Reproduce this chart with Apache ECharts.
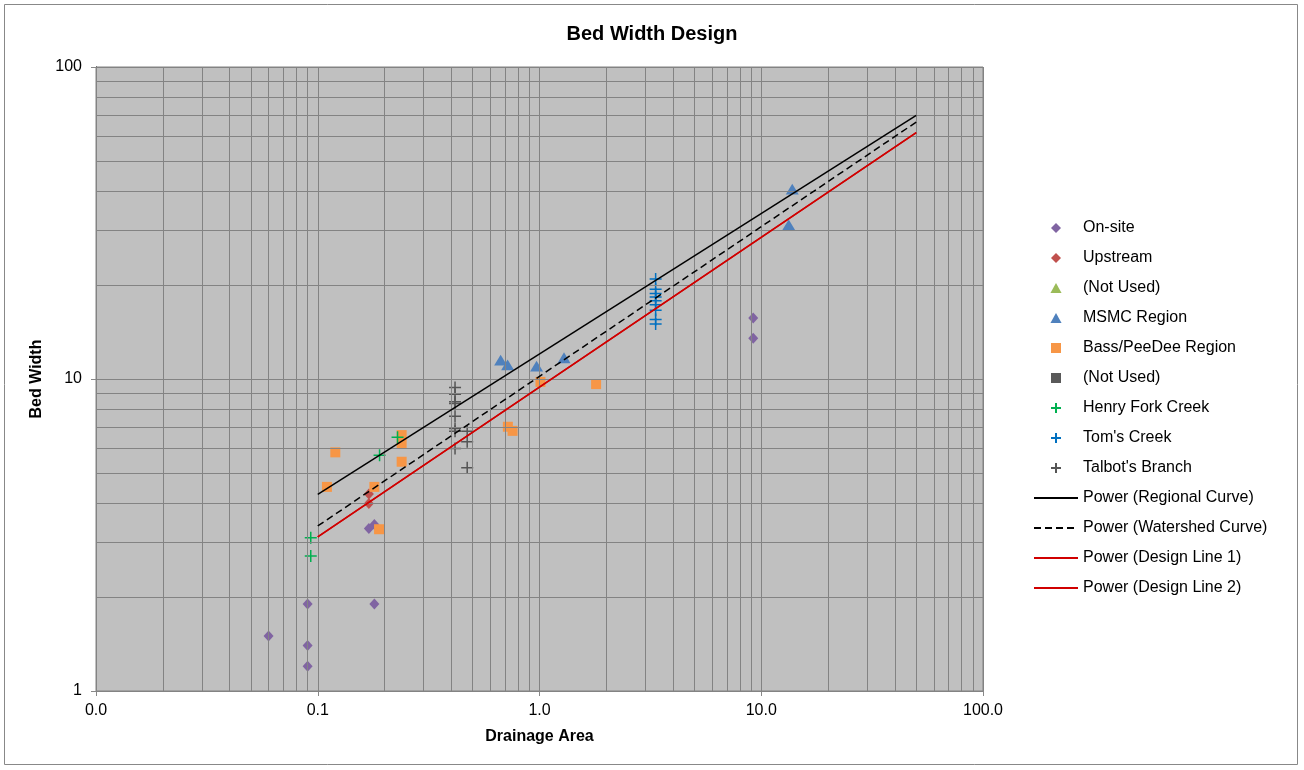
<!DOCTYPE html>
<html>
<head>
<meta charset="utf-8">
<script src="https://cdn.jsdelivr.net/npm/echarts@6/dist/echarts.min.js"></script>
<style>html,body{margin:0;padding:0;background:#fff;}#chart{width:1304px;height:770px;}</style>
</head>
<body>
<div id="chart"></div>
<script>
// ---- data ----
const onsiteX = [0.06, 0.09, 0.09, 0.09, 0.17, 0.18, 0.18, 9.2, 9.2];
const onsiteY = [1.5, 1.9, 1.4, 1.2, 3.32, 3.42, 1.9, 15.7, 13.5];
const upstreamX = [0.17, 0.17];
const upstreamY = [4.28, 3.99];
const notUsedAX = [];
const notUsedAY = [];
const msmcX = [0.668, 0.718, 0.97, 1.29, 13.3, 13.8];
const msmcY = [11.5, 11.1, 11.0, 11.7, 31.2, 40.6];
const bassX = [0.11, 0.12, 0.18, 0.189, 0.239, 0.239, 0.239, 0.72, 0.756, 1.01, 1.8];
const bassY = [4.51, 5.82, 4.51, 3.30, 6.61, 6.21, 5.43, 7.03, 6.82, 9.79, 9.63];
const notUsedBX = [];
const notUsedBY = [];
const henryX = [0.093, 0.093, 0.19, 0.229];
const henryY = [3.10, 2.71, 5.70, 6.50];
const tomsX = [3.34, 3.34, 3.34, 3.34, 3.34, 3.34, 3.34, 3.34, 3.34];
const tomsY = [20.9, 19.4, 18.8, 18.3, 17.8, 17.3, 16.6, 15.5, 15.0];
const talbotX = [0.416, 0.416, 0.416, 0.416, 0.416, 0.416, 0.416, 0.416, 0.472, 0.472, 0.472];
const talbotY = [9.39, 8.94, 8.45, 8.35, 7.60, 6.94, 6.80, 5.99, 6.80, 6.29, 5.19];
const regionalX = [0.1, 50];
const regionalY = [4.27, 70.0];
const watershedX = [0.1, 50];
const watershedY = [3.38, 66.6];
const design1X = [0.1, 50];
const design1Y = [3.12, 61.6];
const design2X = [0.1, 50];
const design2Y = [3.12, 61.6];
const xTickDecades = [-2, -1, 0, 1];   // gridlines 1..9 x 10^d, plus 100
const yTickDecades = [0, 1];
const titleText = 'Bed Width Design';
const xName = 'Drainage Area';
const yName = 'Bed Width';

function zip(xs, ys) { return xs.map((x, i) => [x, ys[i]]); }
function gridValues(decades, top) {
  const out = [];
  decades.forEach(d => { for (let k = 1; k <= 9; k++) out.push(Number((k * Math.pow(10, d)).toPrecision(3))); });
  out.push(top);
  return out;
}
const gx = gridValues(xTickDecades, 100);
const gy = gridValues(yTickDecades, 100);

const plusPath = 'path://M5,0L5,10M0,5L10,5';
const diamondPath = 'path://M5,0L10,5L5,10L0,5Z';
const trianglePath = 'path://M5,0L10,9L0,9Z';
const squarePath = 'path://M0,0L10,0L10,10L0,10Z';
const FONT = 'Liberation Sans, Arial, sans-serif';
const NARROW = 'Liberation Sans Narrow, Arial Narrow, Liberation Sans, sans-serif';

function scatter(name, xs, ys, symbol, size, color, isPlus) {
  return {
    name: name, type: 'scatter', data: zip(xs, ys), symbol: symbol, symbolSize: size, z: 4,
    symbolKeepAspect: true,
    itemStyle: isPlus ? { color: color, borderColor: color, borderWidth: 1.5, opacity: 1 } : { color: color, opacity: 1 },
    emphasis: { disabled: true }
  };
}
function trend(name, xs, ys, color, type) {
  return {
    name: name, type: 'line', data: zip(xs, ys), symbol: 'none', showSymbol: false, z: 5,
    lineStyle: { color: color, width: 1.5, type: type },
    itemStyle: { color: color },
    emphasis: { disabled: true }
  };
}

const series = [
  {
    name: '__grid', type: 'scatter', data: [], z: 1, silent: true,
    markLine: {
      silent: true, symbol: ['none', 'none'], animation: false,
      label: { show: false },
      lineStyle: { color: '#838383', width: 1, type: 'solid' },
      emphasis: { disabled: true },
      data: gx.map(v => ({ xAxis: v })).concat(gy.map(v => ({ yAxis: v })))
    }
  },
  scatter('On-site', onsiteX, onsiteY, diamondPath, [10, 11], '#8064a2'),
  scatter('Upstream', upstreamX, upstreamY, diamondPath, [10, 11], '#c0504d'),
  scatter('(Not Used)', notUsedAX, notUsedAY, trianglePath, [13, 12], '#9bbb59'),
  scatter('MSMC Region', msmcX, msmcY, trianglePath, [13, 12], '#4f81bd'),
  scatter('Bass/PeeDee Region', bassX, bassY, squarePath, 10, '#f79646'),
  scatter('(Not Used) ', notUsedBX, notUsedBY, squarePath, 10, '#595959'),
  scatter("Henry Fork Creek", henryX, henryY, plusPath, 12, '#00b050', true),
  scatter("Tom's Creek", tomsX, tomsY, plusPath, 12, '#0070c0', true),
  scatter("Talbot's Branch", talbotX, talbotY, plusPath, 12, '#555555', true),
  trend('Power (Regional Curve)', regionalX, regionalY, '#000000', 'solid'),
  trend('Power (Watershed Curve)', watershedX, watershedY, '#000000', [7, 4]),
  trend('Power (Design Line 1)', design1X, design1Y, '#d00000', 'solid'),
  trend('Power (Design Line 2)', design2X, design2Y, '#d00000', 'solid')
];

const legendData = series.slice(1).map(s => (s.type === 'line'
  ? { name: s.name, itemStyle: { opacity: 0, color: 'rgba(0,0,0,0)', borderColor: 'rgba(0,0,0,0)' } }
  : { name: s.name }));

const chart = echarts.init(document.getElementById('chart'), null, { renderer: 'canvas' });
chart.setOption({
  animation: false,
  backgroundColor: '#ffffff',
  title: {
    text: titleText, left: 'center', top: 19,
    textStyle: { fontFamily: FONT, fontSize: 20, fontWeight: 'bold', color: '#000' }
  },
  graphic: [{
    type: 'rect', shape: { x: 4.5, y: 4.5, width: 1293, height: 760 },
    style: { fill: 'none', stroke: '#888888', lineWidth: 1 }, silent: true, z: 0
  }],
  grid: {
    left: 96, right: 321, top: 67, bottom: 79, show: true,
    backgroundColor: '#c0c0c0', borderColor: '#838383', borderWidth: 1
  },
  legend: {
    orient: 'vertical', left: 1033, top: 213, padding: 0, itemGap: 0, itemWidth: 44, itemHeight: 10,
    symbolKeepAspect: true,
    selectedMode: false,
    textStyle: { fontFamily: FONT, fontSize: 16, color: '#000', lineHeight: 30 },
    data: legendData
  },
  xAxis: {
    type: 'log', logBase: 10, min: 0.01, max: 100,
    name: xName, nameLocation: 'middle', nameGap: 38,
    nameTextStyle: { fontFamily: NARROW, fontSize: 16, fontWeight: 'bold', color: '#000' },
    axisLine: { show: true, lineStyle: { color: '#000', width: 1 } },
    axisTick: { show: true, length: 5, lineStyle: { color: '#888' } },
    axisLabel: { fontFamily: NARROW, fontSize: 16, color: '#000', margin: 12,
      formatter: v => Number(v).toFixed(1) },
    splitLine: { show: false }, minorTick: { show: false }
  },
  yAxis: {
    type: 'log', logBase: 10, min: 1, max: 100,
    name: yName, nameLocation: 'middle', nameGap: 48, nameRotate: 90,
    nameTextStyle: { fontFamily: NARROW, fontSize: 16, fontWeight: 'bold', color: '#000' },
    axisLine: { show: true, lineStyle: { color: '#000', width: 1 } },
    axisTick: { show: true, length: 5, lineStyle: { color: '#888' } },
    axisLabel: { fontFamily: FONT, fontSize: 16, color: '#000', margin: 14,
      formatter: v => String(Math.round(v)) },
    splitLine: { show: false }
  },
  series: series
});
</script>
</body>
</html>
